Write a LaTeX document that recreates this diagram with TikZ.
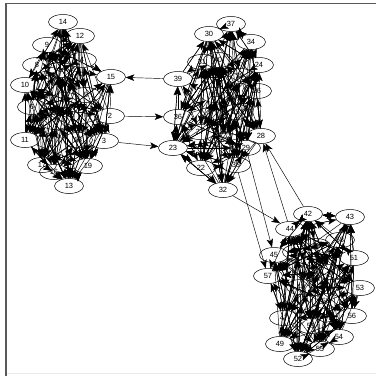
\documentclass[tikz,border=0pt]{standalone}
\usepackage{fontspec}
\setmainfont{Liberation Sans}
\usetikzlibrary{shapes.geometric,arrows.meta}
\begin{document}
\begin{tikzpicture}[x=1pt,y=-1pt,
  vtx/.style={draw,ellipse,minimum width=29pt,minimum height=15pt,inner sep=0pt,
    font=\fontsize{7.5}{8}\selectfont,line width=0.5pt},
  arc/.style={line width=0.45pt,-{Stealth[length=8.5pt,width=6.5pt,inset=2pt]}},
  framelineA/.style={draw=black!65,line width=1.5pt},
  framelineB/.style={draw=black!8,line width=1pt}]
\useasboundingbox (0,0) rectangle (376,376);
\fill[white] (0,0) rectangle (376,376);
% window frame
\draw[framelineA] (6,376) -- (6,3.5) -- (376,3.5);
\draw[framelineB] (7,373.5) -- (376,373.5);

% first group
\foreach \n/\x/\y in {14/63/22, 12/80/36, 9/47/45, 8/37/65, 10/25/85, 15/111/77,
  6/32/107, 2/110/116, 11/25/140, 3/104/141, 17/42/165, 16/54/172, 13/69/186,
  1/60/70, 4/82/60, 5/86/95, 7/55/122, 18/78/140, 19/88/166, 20/65/100}
  \node[vtx] (v\n) at (\x,\y) {\n};
% second group
\foreach \n/\x/\y in {37/231/24, 30/209/34, 34/251/42, 31/202/62, 24/259/65,
  39/178/79, 26/257/91, 36/178/117, 28/261/136, 23/173/148, 29/246/148,
  22/201/168, 35/236/165, 32/223/190, 21/215/95, 25/236/112, 27/200/132,
  33/225/140, 38/240/76, 40/218/60}
  \node[vtx] (v\n) at (\x,\y) {\n};
% third group
\foreach \n/\x/\y in {42/308/214, 43/350/217, 44/290/229, 45/274/255, 51/354/258,
  57/268/276, 53/360/288, 47/284/318, 56/352/316, 54/339/337, 49/280/344,
  55/320/349, 52/298/359, 41/316/246, 46/331/272, 48/301/287, 50/326/301,
  58/340/240, 59/311/326, 60/297/252}
  \node[vtx] (v\n) at (\x,\y) {\n};

% dense edges inside each group
\pgfmathsetseed{4711}
\foreach \base in {0,20,40}{
  \foreach \k in {1,...,250}{
    \pgfmathrandominteger{\ri}{1}{20}
    \pgfmathrandominteger{\rr}{1}{19}
    \pgfmathtruncatemacro{\i}{\ri+\base}
    \pgfmathtruncatemacro{\j}{mod(\ri+\rr-1,20)+1+\base}
    \draw[arc] (v\i) -- (v\j);
  }
}

% links between groups
\draw[arc] (v39) -- (v15);
\draw[arc] (v2) -- (v36);
\draw[arc] (v3) -- (v23);
\draw[arc] (v32) -- (v44);
\draw[arc] (v35) -- (v57);
\draw[arc] (v29) -- (v45);
\draw[arc] (v42) -- (v28);
\draw[arc] (v44) -- (v28);
\end{tikzpicture}
\end{document}
